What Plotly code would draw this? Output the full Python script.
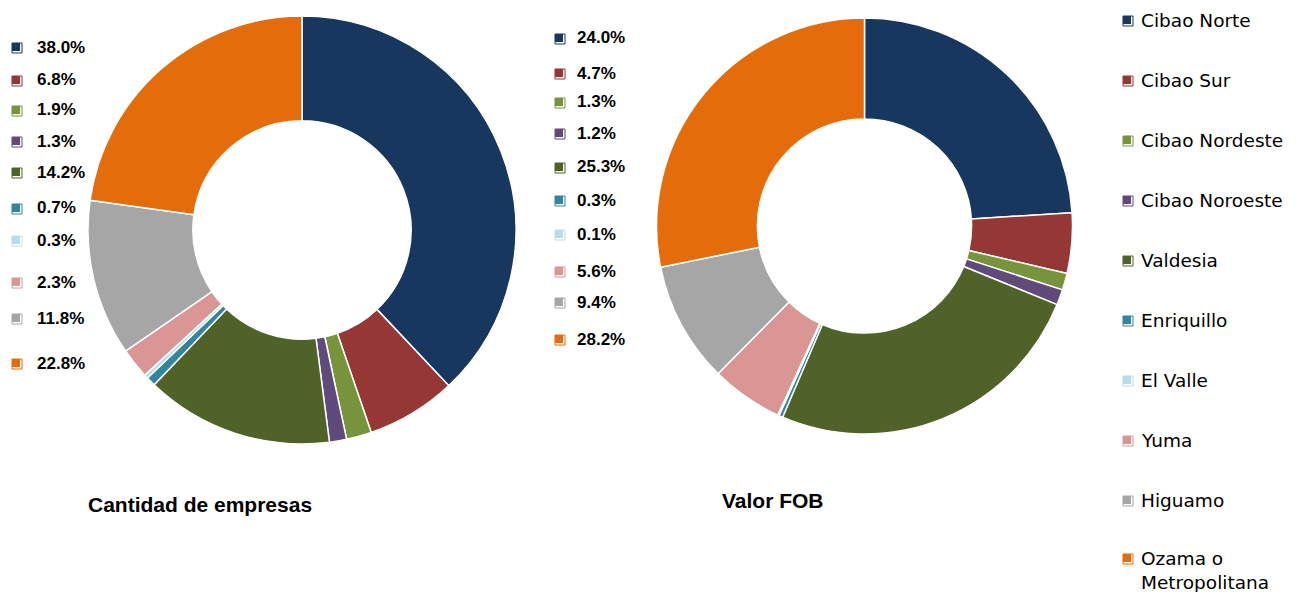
import plotly.graph_objects as go

W, H = 1297, 592

regions = ["Cibao Norte", "Cibao Sur", "Cibao Nordeste", "Cibao Noroeste", "Valdesia",
           "Enriquillo", "El Valle", "Yuma", "Higuamo", "Ozama o<br>Metropolitana"]
empresas = [38.0, 6.8, 1.9, 1.3, 14.2, 0.7, 0.3, 2.3, 11.8, 22.8]
fob = [24.0, 4.7, 1.3, 1.2, 25.3, 0.3, 0.1, 5.6, 9.4, 28.2]
colors = ["#17375E", "#953735", "#77933C", "#604A7B", "#4F6228",
          "#31859C", "#B7DEE8", "#D99694", "#A6A6A6", "#E46C0A"]
titles = ["Cantidad de empresas", "Valor FOB"]

# layout (pixel positions of the value lists / legend rows)
left_list_y = [47, 80, 110, 141, 172, 208, 240, 282, 318, 363]
right_list_y = [38, 73, 102, 133, 167, 200, 234, 271, 302, 339]
legend_y = [20, 80, 140, 200, 260, 320, 380, 440, 500, 558]


def px(x):
    return x / W


def py(y):
    return 1 - y / H


fig = go.Figure()

# left donut: center (302, 230), radius 214
cx, cy, r = 302, 230, 214
fig.add_trace(go.Pie(
    labels=regions, values=empresas, hole=0.51, sort=False, direction="clockwise",
    rotation=0, textinfo="none", hoverinfo="label+percent",
    marker=dict(colors=colors, line=dict(color="white", width=1.5)),
    domain=dict(x=[px(cx - r), px(cx + r)], y=[py(cy + r), py(cy - r)]),
    showlegend=False,
))

# right donut: center (864.5, 226), radius 208
cx2, cy2, r2 = 864.5, 226, 208
fig.add_trace(go.Pie(
    labels=regions, values=fob, hole=0.515, sort=False, direction="clockwise",
    rotation=0, textinfo="none", hoverinfo="label+percent",
    marker=dict(colors=colors, line=dict(color="white", width=1.5)),
    domain=dict(x=[px(cx2 - r2), px(cx2 + r2)], y=[py(cy2 + r2), py(cy2 - r2)]),
    showlegend=False,
))

shapes = []
annotations = []


def key(x, y, color, size=8):
    # square legend key with a thin offset outline on the right/bottom (Excel-style)
    shapes.append(dict(type="rect", xref="paper", yref="paper",
                       x0=px(x), x1=px(x + size + 2), y0=py(y + size / 2 + 2), y1=py(y - size / 2),
                       line=dict(color=color, width=1), fillcolor="white", layer="above"))
    shapes.append(dict(type="rect", xref="paper", yref="paper",
                       x0=px(x), x1=px(x + size), y0=py(y + size / 2), y1=py(y - size / 2),
                       line=dict(width=0), fillcolor=color, layer="above"))


for vals, ys, kx, tx in [(empresas, left_list_y, 12, 35), (fob, right_list_y, 555, 575)]:
    for v, y, c in zip(vals, ys, colors):
        key(kx, y, c)
        annotations.append(dict(
            x=px(tx), y=py(y), xref="paper", yref="paper", xanchor="left", yanchor="middle",
            text=f"<b>{v:.1f}%</b>", showarrow=False,
            font=dict(family="Liberation Sans, Arial, sans-serif", size=17, color="#000000")))

for name, y, c in zip(regions, legend_y, colors):
    key(1123, y, c)
    annotations.append(dict(
        x=px(1139), y=py(y - 12), xref="paper", yref="paper", xanchor="left", yanchor="top",
        text=name, showarrow=False, align="left",
        font=dict(family="DejaVu Sans, sans-serif", size=18.5, color="#000000")))

annotations.append(dict(x=px(86), y=py(504), xref="paper", yref="paper", xanchor="left",
                        yanchor="middle", text=f"<b>{titles[0]}</b>", showarrow=False,
                        font=dict(family="Liberation Sans, Arial, sans-serif", size=21, color="#000000")))
annotations.append(dict(x=px(720), y=py(500), xref="paper", yref="paper", xanchor="left",
                        yanchor="middle", text=f"<b>{titles[1]}</b>", showarrow=False,
                        font=dict(family="Liberation Sans, Arial, sans-serif", size=21, color="#000000")))

fig.update_layout(
    width=W, height=H, margin=dict(l=0, r=0, t=0, b=0),
    paper_bgcolor="white", plot_bgcolor="white",
    shapes=shapes, annotations=annotations, showlegend=False,
)

fig.write_html("out.html", config={"displayModeBar": False})

# remove the default page margin so the figure sits at the window's top-left corner
with open("out.html", encoding="utf-8") as f:
    html = f.read()
html = html.replace("<body>", '<body style="margin:0;overflow:hidden">', 1)
with open("out.html", "w", encoding="utf-8") as f:
    f.write(html)
